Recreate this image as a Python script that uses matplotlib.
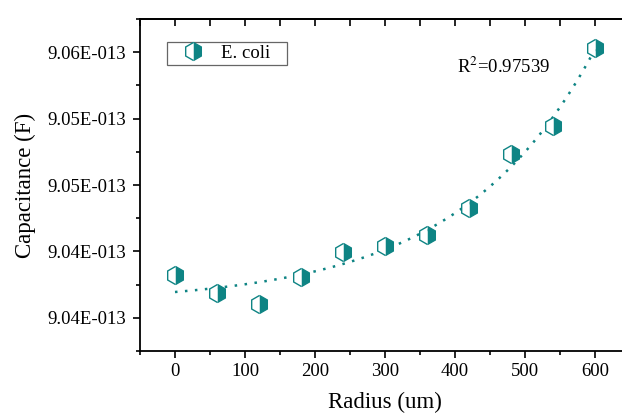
import numpy as np
import matplotlib.pyplot as plt
from matplotlib.ticker import MultipleLocator, FuncFormatter
from matplotlib.patches import Rectangle

# data (capacitance in units of 1e-13 F)
radius = [0, 60, 120, 180, 240, 300, 360, 420, 480, 540, 600]
capacitance = [9.0426, 9.0415, 9.04085, 9.04243, 9.04394, 9.04435,
               9.04499, 9.04662, 9.04989, 9.05156, 9.05628]
r2_text = "R$^2$=0.97539"
series_name = "E. coli"

teal = '#0e8484'

plt.rcParams['font.family'] = ['Liberation Serif', 'DejaVu Serif']
plt.rcParams['mathtext.fontset'] = 'stix'

x = np.array(radius, dtype=float)
y = np.array(capacitance)

# exponential growth fit y = y0 + A*exp(x/t), grid search over t
best = None
for t in np.linspace(50, 1000, 2000):
	M = np.column_stack([np.ones_like(x), np.exp(x / t)])
	coef, res, _, _ = np.linalg.lstsq(M, y, rcond=None)
	err = np.sum((M @ coef - y) ** 2)
	if best is None or err < best[0]:
		best = (err, t, coef)
_, t_fit, coef_fit = best
xf = np.linspace(0, 600, 200)
yf = coef_fit[0] + coef_fit[1] * np.exp(xf / t_fit)

fig = plt.figure(figsize=(6.22, 4.15), dpi=100)
ax = fig.add_axes([140 / 622, 1 - 351 / 415, 490 / 622, 332 / 415])

ax.plot(xf, yf, linestyle=(0, (1, 3)), color=teal, linewidth=1.8, zorder=2)
ax.plot(x, y, linestyle='none', marker='h', markersize=13, fillstyle='right',
		markerfacecolor=teal, markerfacecoloralt='white', markeredgecolor=teal,
		markeredgewidth=1.0, label=series_name, zorder=3)

ax.set_xlim(-50, 650)
ax.set_ylim(9.038, 9.058)
ax.xaxis.set_major_locator(MultipleLocator(100))
ax.xaxis.set_minor_locator(MultipleLocator(50))
ax.set_yticks([9.040, 9.044, 9.048, 9.052, 9.056])
ax.yaxis.set_minor_locator(MultipleLocator(0.002))
ax.yaxis.set_major_formatter(FuncFormatter(lambda v, p: "%.2fE-013" % v))

ax.tick_params(axis='both', which='major', direction='out', length=5, width=1.2, labelsize=13.5)
ax.tick_params(axis='y', which='major', pad=5)
ax.tick_params(axis='both', which='minor', direction='out', length=3, width=1.2)

# top axis: ticks pointing inward, no labels
top = ax.secondary_xaxis('top')
top.xaxis.set_major_locator(MultipleLocator(50))
top.tick_params(axis='x', which='major', direction='in', length=5, width=1.2, labeltop=False)
top.spines['top'].set_linewidth(1.3)

for s in ['left', 'bottom', 'top']:
	ax.spines[s].set_linewidth(1.3)
ax.spines['right'].set_visible(False)

ax.set_xlabel("Radius (um)", fontsize=16.5, labelpad=9)
ax.set_ylabel("Capacitance (F)", fontsize=16.5, labelpad=8)

ax.text(469, 9.0551, r2_text, fontsize=13.5, ha='center', va='center')

# legend box
ax.add_patch(Rectangle((27 / 490, 1 - 46 / 332), 120 / 490, 23 / 332, transform=ax.transAxes,
					   facecolor='white', edgecolor='#666666', linewidth=0.9, zorder=4))
leg = ax.legend(loc='center left', bbox_to_anchor=(42 / 490, 1 - 34.5 / 332),
				fontsize=13.5, frameon=False, handletextpad=0.9, borderpad=0,
				borderaxespad=0, handlelength=1.2)
leg.set_zorder(5)

fig.savefig('out.png', dpi=100)
